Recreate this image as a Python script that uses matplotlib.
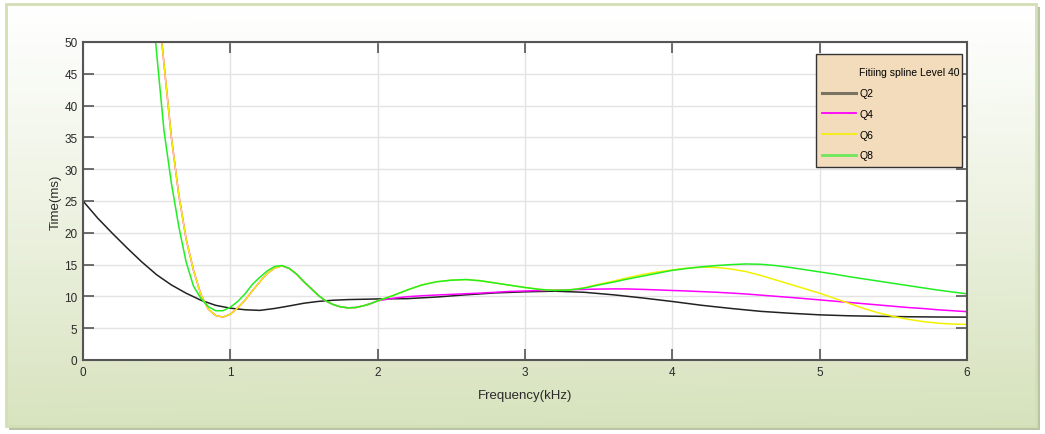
import matplotlib

matplotlib.use("Agg")
import matplotlib.pyplot as plt
import numpy as np
from matplotlib.lines import Line2D
from matplotlib.patches import Rectangle

plt.rcParams["font.family"] = ["Liberation Sans", "DejaVu Sans"]

# Q2 is smooth, read at a coarser step
freq_q2 = [0.0, 0.1, 0.2, 0.3, 0.4, 0.5, 0.6, 0.7, 0.8, 0.9, 1.0,
           1.1, 1.2, 1.3, 1.4, 1.5, 1.6, 1.7, 1.8, 1.9, 2.0,
           2.2, 2.4, 2.6, 2.8, 3.0, 3.2, 3.4, 3.6, 3.8, 4.0,
           4.2, 4.4, 4.6, 4.8, 5.0, 5.2, 5.4, 5.6, 5.8, 6.0]
q2 = [25.0, 22.3, 19.9, 17.6, 15.4, 13.4, 11.8, 10.5, 9.4, 8.6, 8.15,
      7.9, 7.8, 8.1, 8.5, 8.93, 9.22, 9.4, 9.5, 9.55, 9.6,
      9.65, 9.9, 10.25, 10.55, 10.72, 10.82, 10.65, 10.25, 9.75, 9.2,
      8.6, 8.1, 7.65, 7.35, 7.1, 6.95, 6.87, 6.8, 6.76, 6.74]

# Q4/Q6/Q8 wiggle more, read at a finer step (0.05 below 2 kHz, 0.1 above)
freq_low = [0.45, 0.50, 0.55, 0.60, 0.65, 0.70, 0.75, 0.80, 0.85, 0.90,
            0.95, 1.00, 1.05, 1.10, 1.15, 1.20, 1.25, 1.30, 1.35, 1.40,
            1.45, 1.50, 1.55, 1.60, 1.65, 1.70, 1.75, 1.80, 1.85, 1.90,
            1.95, 2.00]
freq_high = [2.1, 2.2, 2.3, 2.4, 2.5, 2.6, 2.7, 2.8, 2.9, 3.0,
             3.1, 3.2, 3.3, 3.4, 3.5, 3.6, 3.7, 3.8, 3.9, 4.0,
             4.1, 4.2, 4.3, 4.4, 4.5, 4.6, 4.7, 4.8, 4.9, 5.0,
             5.1, 5.2, 5.3, 5.4, 5.5, 5.6, 5.7, 5.8, 5.9, 6.0]

# Q4 and Q6 coincide below 2 kHz
q46_low = [76.0, 58.0, 46.5, 35.0, 26.0, 19.0, 14.1, 10.3, 8.0, 7.0,
           6.75, 7.2, 8.2, 9.4, 10.9, 12.3, 13.6, 14.45, 14.8, 14.4,
           13.5, 12.3, 11.2, 10.1, 9.25, 8.7, 8.35, 8.2, 8.25, 8.5,
           8.85, 9.3]
q8_low = [61.0, 48.2, 36.0, 27.8, 21.0, 15.4, 11.6, 9.7, 8.4, 7.75,
          7.75, 8.3, 9.2, 10.4, 11.9, 13.0, 14.0, 14.7, 14.85, 14.4,
          13.5, 12.3, 11.2, 10.1, 9.25, 8.7, 8.35, 8.2, 8.25, 8.5,
          8.85, 9.3]

q4_high = [9.7, 9.95, 10.1, 10.22, 10.32, 10.42, 10.52, 10.65, 10.78, 10.85,
           10.92, 10.98, 11.05, 11.1, 11.15, 11.18, 11.17, 11.1, 11.02, 10.93,
           10.85, 10.75, 10.65, 10.52, 10.38, 10.2, 10.02, 9.84, 9.65, 9.45,
           9.25, 9.05, 8.85, 8.65, 8.45, 8.25, 8.1, 7.9, 7.75, 7.6]
q6_high = [10.1, 11.0, 11.8, 12.3, 12.55, 12.65, 12.45, 12.1, 11.75, 11.4,
           11.1, 10.95, 11.0, 11.35, 11.9, 12.4, 12.95, 13.45, 13.85, 14.15,
           14.45, 14.6, 14.55, 14.3, 13.9, 13.3, 12.6, 11.9, 11.2, 10.5,
           9.7, 8.9, 8.1, 7.4, 6.85, 6.4, 6.05, 5.8, 5.65, 5.6]
q8_high = [10.1, 11.0, 11.8, 12.3, 12.55, 12.65, 12.45, 12.1, 11.75, 11.4,
           11.1, 10.95, 11.0, 11.3, 11.8, 12.25, 12.75, 13.2, 13.65, 14.1,
           14.4, 14.65, 14.85, 15.0, 15.1, 15.05, 14.85, 14.55, 14.2, 13.85,
           13.5, 13.1, 12.75, 12.4, 12.05, 11.7, 11.35, 11.0, 10.7, 10.4]

freq_fine = freq_low + freq_high
q4 = q46_low + q4_high
q6 = q46_low + q6_high
q8 = q8_low + q8_high

labels = ["Q2", "Q4", "Q6", "Q8"]
colors = ["#222222", "#ff00ff", "#f2f200", "#22ee22"]
legend_colors = ["#7a7263", "#ff00ff", "#f5ee10", "#6ee85a"]
legend_widths = [2.2, 1.3, 1.3, 2.0]

W, H = 1045, 435
fig = plt.figure(figsize=(W / 100, H / 100), dpi=100)

# background panel: soft green gradient, light border, drop shadow
bg = fig.add_axes([0, 0, 1, 1])
bg.set_xlim(0, W)
bg.set_ylim(H, 0)
bg.axis("off")
bg.add_patch(Rectangle((9, 8), 1031, 423, facecolor="#b9c3a6", edgecolor="none"))
yy, xx = np.mgrid[0:1:200j, 0:1:400j]
t = np.clip(0.85 * yy ** 1.1 + 0.15 * xx * yy + 0.1 * (1 - xx) * yy, 0, 1)
top = np.array([1.0, 1.0, 1.0])
bottom = np.array([0xd6, 0xe2, 0xbc]) / 255
grad = top + (bottom - top) * t[..., None]
bg.imshow(grad, extent=(6, 1036, 427, 5), aspect="auto", zorder=1)
bg.add_patch(Rectangle((6, 5), 1030, 422, facecolor="none", edgecolor="#d3dfb6", lw=2, zorder=2))

ax = fig.add_axes([83 / W, (H - 361) / H, 884 / W, 318 / H])
ax.set_facecolor("white")
ax.plot(freq_q2, q2, color=colors[0], lw=1.1)
ax.plot(freq_fine, q4, color=colors[1], lw=1.1)
ax.plot(freq_fine, q6, color=colors[2], lw=1.1)
ax.plot(freq_fine, q8, color=colors[3], lw=1.1)

ax.set_xlim(0, 6)
ax.set_ylim(0, 50)
ax.set_xticks(range(0, 7))
ax.set_yticks(range(0, 55, 5))
ax.grid(True, color="#e3e3e3", lw=1)
ax.set_axisbelow(True)
ax.tick_params(direction="in", length=8, width=1.2, color="#555555",
               top=True, right=True, labelsize=8.5, labelcolor="#2a2a2a", pad=4)
for sp in ax.spines.values():
    sp.set_color("#555555")
    sp.set_linewidth(1.5)
ax.set_xlabel("Frequency(kHz)", fontsize=9.5, color="#2a2a2a", labelpad=8)
ax.set_ylabel("Time(ms)", fontsize=9.5, color="#2a2a2a", labelpad=2)

# legend box drawn by hand so its padding can differ from the entry layout
ax.add_patch(Rectangle((0.8288, 0.607), 0.1658, 0.354, transform=ax.transAxes,
                       facecolor="#f2dcbb", edgecolor="#333333", lw=1.0,
                       zorder=4.5, clip_on=False))
# title sits in the label column, so it goes in as an entry with no line
handles = [Line2D([], [], color="none")]
handles += [Line2D([], [], color=c, lw=w) for c, w in zip(legend_colors, legend_widths)]
leg = ax.legend(handles, ["Fitiing spline Level 40"] + labels, loc="upper left",
                bbox_to_anchor=(0.836, 0.92), borderaxespad=0, borderpad=0,
                fontsize=7.5, handlelength=3.3, handletextpad=0.25,
                labelspacing=1.03, frameon=False)
leg.set_zorder(5)

fig.savefig("out.png", dpi=100)
